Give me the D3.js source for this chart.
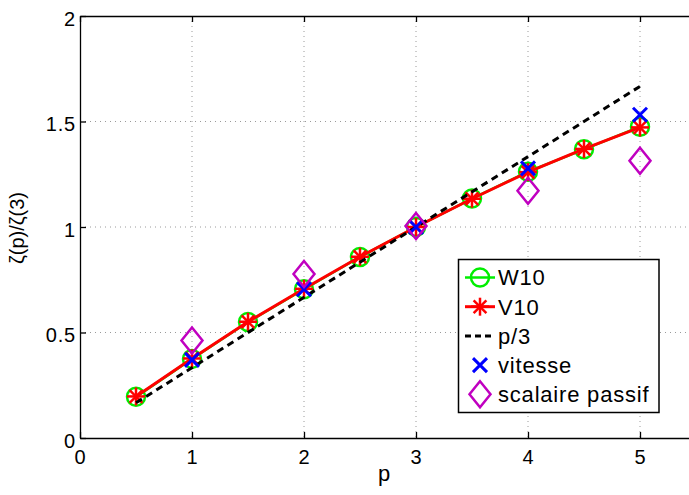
<!DOCTYPE html>
<html><head><meta charset="utf-8">
<script src="https://cdn.jsdelivr.net/npm/d3@7"></script>
<style>body{margin:0;background:#fff}svg{display:block}text{font-family:"Liberation Sans",Arial,sans-serif}</style>
</head><body><svg id="c" width="689" height="495"></svg>
<script>
const pW = [0.5,1,1.5,2,2.5,3,3.5,4,4.5,5];
const W10 = [0.195,0.375,0.55,0.705,0.858,1.0,1.135,1.262,1.368,1.475];
const V10 = [0.197,0.377,0.551,0.707,0.859,1.0,1.134,1.26,1.37,1.472];
const pLine = [0.5,5];
const pV = [1,2,3,4,5];
const vitesse = [0.37,0.705,1.0,1.278,1.532];
const scalaire = [0.462,0.777,1.005,1.172,1.314];
const xTicks = [0,1,2,3,4,5];
const yTicks = [0,0.5,1,1.5,2];
const legendLabels = ["W10","V10","p/3","vitesse","scalaire passif"];

const svg = d3.select("#c");
const L=80, R=696, T=16, B=438;
const x = d3.scaleLinear().domain([0,5.5]).range([L,R]);
const y = d3.scaleLinear().domain([0,2]).range([B,T]);
const FS = 20;

// grid
const g = svg.append("g");
g.selectAll(".gx").data(xTicks.slice(1)).enter().append("line")
 .attr("x1",d=>x(d)).attr("x2",d=>x(d)).attr("y1",T).attr("y2",B)
 .attr("stroke","#9a9a9a").attr("stroke-width",1).attr("stroke-dasharray","1,4");
g.selectAll(".gy").data(yTicks.slice(1,-1)).enter().append("line")
 .attr("y1",d=>y(d)).attr("y2",d=>y(d)).attr("x1",L).attr("x2",R)
 .attr("stroke","#9a9a9a").attr("stroke-width",1).attr("stroke-dasharray","1,4");

// axes
const xa = svg.append("g").attr("transform",`translate(0,${B})`)
 .call(d3.axisBottom(x).tickValues(xTicks).tickSizeInner(-6).tickSizeOuter(0).tickPadding(12).tickFormat(d3.format("d")));
const xt = svg.append("g").attr("transform",`translate(0,${T})`)
 .call(d3.axisTop(x).tickValues(xTicks).tickSizeInner(-6).tickSizeOuter(0).tickFormat(""));
const ya = svg.append("g").attr("transform",`translate(${L},0)`)
 .call(d3.axisLeft(y).tickValues(yTicks).tickSizeInner(-6).tickSizeOuter(0).tickPadding(4).tickFormat(d=>d3.format("")(d)));
const yr = svg.append("g").attr("transform",`translate(${R},0)`)
 .call(d3.axisRight(y).tickValues(yTicks).tickSizeInner(-6).tickSizeOuter(0).tickFormat(""));
[xa,xt,ya,yr].forEach(a=>{
 a.selectAll("path").attr("stroke","#000").attr("stroke-width",1.3);
 a.selectAll("line").attr("stroke","#000").attr("stroke-width",1.3);
 a.selectAll("text").attr("font-size",FS).attr("fill","#000").attr("letter-spacing","0.8px").attr("font-family","Liberation Sans, Arial, sans-serif");
});
xa.selectAll("text").attr("dy","0.7em");
ya.selectAll("text").attr("dy","0.45em");

// series
const line = d3.line().x(d=>x(d[0])).y(d=>y(d[1]));
const green="#00ee00", red="#ff0000", blue="#0000ff", mag="#c000c0";
const dW = pW.map((p,i)=>[p,W10[i]]);
const dV = pW.map((p,i)=>[p,V10[i]]);
svg.append("path").attr("d",line(dW)).attr("fill","none").attr("stroke",green).attr("stroke-width",2.5);
svg.selectAll(".cw").data(dW).enter().append("circle")
 .attr("cx",d=>x(d[0])).attr("cy",d=>y(d[1])).attr("r",9).attr("fill","none").attr("stroke",green).attr("stroke-width",2.5);
svg.append("path").attr("d",line(dV)).attr("fill","none").attr("stroke",red).attr("stroke-width",3);
function star(sel,cx,cy,r,col,w){
 const a=[0,45,90,135];
 a.forEach(t=>{const rad=t*Math.PI/180;
  sel.append("line").attr("x1",cx-r*Math.cos(rad)).attr("y1",cy-r*Math.sin(rad))
   .attr("x2",cx+r*Math.cos(rad)).attr("y2",cy+r*Math.sin(rad)).attr("stroke",col).attr("stroke-width",w);});
}
dV.forEach(d=>star(svg,x(d[0]),y(d[1]),9,red,2.5));
svg.append("path").attr("d",line(pLine.map(p=>[p,p/3]))).attr("fill","none").attr("stroke","#000").attr("stroke-width",3).attr("stroke-dasharray","7,5");
function cross(sel,cx,cy,r,col,w){
 sel.append("path").attr("d",`M${cx-r},${cy-r}L${cx+r},${cy+r}M${cx-r},${cy+r}L${cx+r},${cy-r}`).attr("stroke",col).attr("stroke-width",w).attr("fill","none");
}
pV.forEach((p,i)=>cross(svg,x(p),y(vitesse[i]),7,blue,3));
function diamond(sel,cx,cy,rx,ry,col,w){
 sel.append("path").attr("d",`M${cx},${cy-ry}L${cx+rx},${cy}L${cx},${cy+ry}L${cx-rx},${cy}Z`).attr("fill","none").attr("stroke",col).attr("stroke-width",w);
}
pV.forEach((p,i)=>diamond(svg,x(p),y(scalaire[i]),10.5,13,mag,2.5));

// legend
const lg = svg.append("g");
lg.append("rect").attr("x",458.5).attr("y",259.5).attr("width",200.5).attr("height",153)
 .attr("fill","#fff").attr("stroke","#000").attr("stroke-width",1.5);
const rowY = i=>277.5+i*29.2;
const lx1=465, lx2=495, lcx=480;
legendLabels.forEach((t,i)=>{
 lg.append("text").attr("x",498).attr("y",rowY(i)).attr("dy","0.36em").attr("font-size",22).attr("letter-spacing","0.8px").attr("fill","#000").text(t);
});
lg.append("line").attr("x1",lx1).attr("x2",lx2).attr("y1",rowY(0)).attr("y2",rowY(0)).attr("stroke",green).attr("stroke-width",2.5);
lg.append("circle").attr("cx",lcx).attr("cy",rowY(0)).attr("r",9).attr("fill","none").attr("stroke",green).attr("stroke-width",2.5);
lg.append("line").attr("x1",lx1).attr("x2",lx2).attr("y1",rowY(1)).attr("y2",rowY(1)).attr("stroke",red).attr("stroke-width",3);
star(lg,lcx,rowY(1),9,red,2.5);
lg.append("line").attr("x1",lx1).attr("x2",lx2).attr("y1",rowY(2)).attr("y2",rowY(2)).attr("stroke","#000").attr("stroke-width",3).attr("stroke-dasharray","6,4");
cross(lg,lcx,rowY(3),7,blue,3);
diamond(lg,lcx,rowY(4),10.5,13,mag,2.5);

// labels
svg.append("text").attr("x",384).attr("y",481).attr("text-anchor","middle").attr("font-size",22).text("p");
svg.append("text").attr("transform",`translate(24,228) rotate(-90)`).attr("text-anchor","middle").attr("font-size",20).text("ζ(p)/ζ(3)");
</script></body></html>
